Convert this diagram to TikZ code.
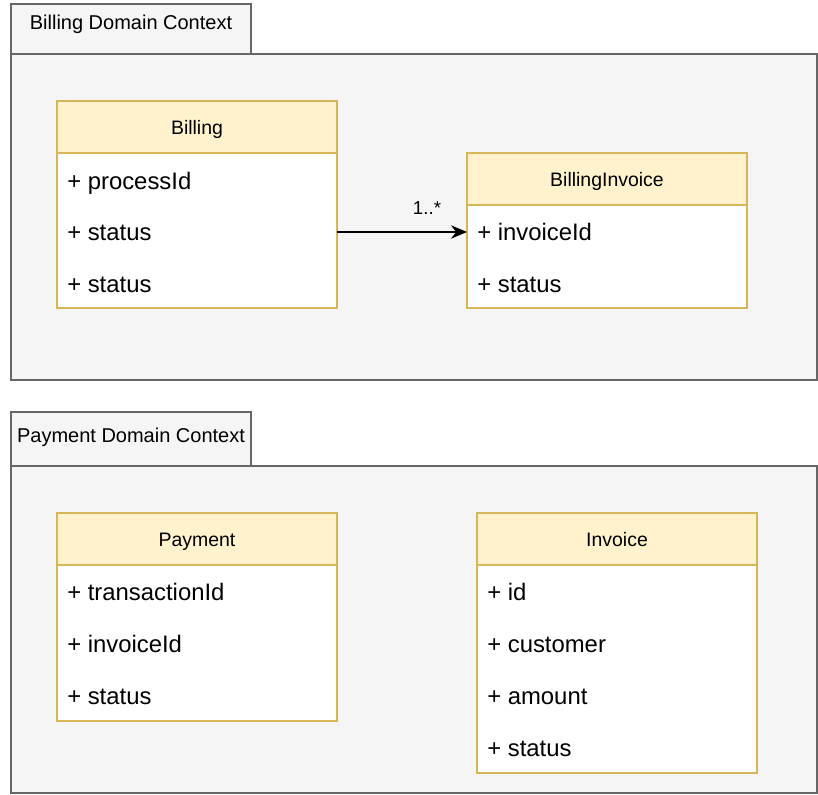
\documentclass[tikz,border=0pt]{standalone}
\usepackage{fontspec}
\setmainfont{Liberation Sans}
\usetikzlibrary{arrows.meta}
\definecolor{ctxfill}{HTML}{F5F5F5}
\definecolor{ctxline}{HTML}{666666}
\definecolor{hdrfill}{HTML}{FFF2CC}
\definecolor{hdrline}{HTML}{D6B656}
\tikzset{
  ctxbox/.style={draw=ctxline, fill=ctxfill, line width=1.1pt, anchor=north west, inner sep=0pt, outer sep=0pt},
  ctxlabel/.style={font=\fontsize{15}{18}\selectfont, inner sep=0pt, anchor=center, text height=10.8pt, text depth=0pt},
  hdr/.style={draw=hdrline, fill=hdrfill, line width=0.9pt, anchor=north west, minimum width=210pt, minimum height=39pt, inner sep=0pt, outer sep=0pt, font=\fontsize{14.6}{17}\selectfont, text height=10.5pt, text depth=0pt},
  body/.style={draw=hdrline, fill=white, line width=0.9pt, anchor=north west, minimum width=210pt, inner sep=0pt, outer sep=0pt},
  attr/.style={anchor=west, inner sep=0pt, font=\fontsize{17.9}{21}\selectfont, text height=12.9pt, text depth=0pt},
  conn/.style={line width=1.3pt, -{Stealth[length=12pt,width=10pt]}},
}
\begin{document}
\begin{tikzpicture}[x=0.75pt,y=-0.75pt]
\useasboundingbox (0,0) rectangle (818,794);
% Billing context
\node[ctxbox, minimum width=604.5pt, minimum height=244.5pt] (bframe) at (11,54) {};
\node[ctxbox, minimum width=180pt, minimum height=37.5pt] (btab) at (11,4) {};
\node[ctxlabel] (btabt) at (131,22) {Billing Domain Context};
% Payment context
\node[ctxbox, minimum width=604.5pt, minimum height=245.25pt] (pframe) at (11,466) {};
\node[ctxbox, minimum width=180pt, minimum height=40.5pt] (ptab) at (11,412) {};
\node[ctxlabel] (ptabt) at (131,435) {Payment Domain Context};
% Billing class
\node[body, minimum height=116.25pt] (billb) at (57,153) {};
\node[hdr] (billh) at (57,101) {Billing};
\node[attr] (bill1) at (67,181) {+ processId};
\node[attr] (bill2) at (67,232) {+ status};
\node[attr] (bill3) at (67,284) {+ status};
% BillingInvoice class
\node[body, minimum height=77.25pt] (bib) at (467,205) {};
\node[hdr] (bih) at (467,153) {BillingInvoice};
\node[attr] (bi1) at (477,232) {+ invoiceId};
\node[attr] (bi2) at (477,284) {+ status};
% Payment class
\node[body, minimum height=117pt] (payb) at (57,565) {};
\node[hdr] (payh) at (57,513) {Payment};
\node[attr] (pay1) at (67,592) {+ transactionId};
\node[attr] (pay2) at (67,644) {+ invoiceId};
\node[attr] (pay3) at (67,696) {+ status};
% Invoice class
\node[body, minimum height=156pt] (invb) at (477,565) {};
\node[hdr] (invh) at (477,513) {Invoice};
\node[attr] (inv1) at (487,592) {+ id};
\node[attr] (inv2) at (487,644) {+ customer};
\node[attr] (inv3) at (487,696) {+ amount};
\node[attr] (inv4) at (487,748) {+ status};
% connector
\coordinate (cs) at (billb.east |- bill2);
\coordinate (ce) at (bib.west |- bi1);
\draw[conn] (cs) -- (ce);
\node[inner sep=0pt, font=\fontsize{14}{16}\selectfont, text height=10.1pt, text depth=0pt] (mult) at (427,208) {1..*};
\end{tikzpicture}
\end{document}
